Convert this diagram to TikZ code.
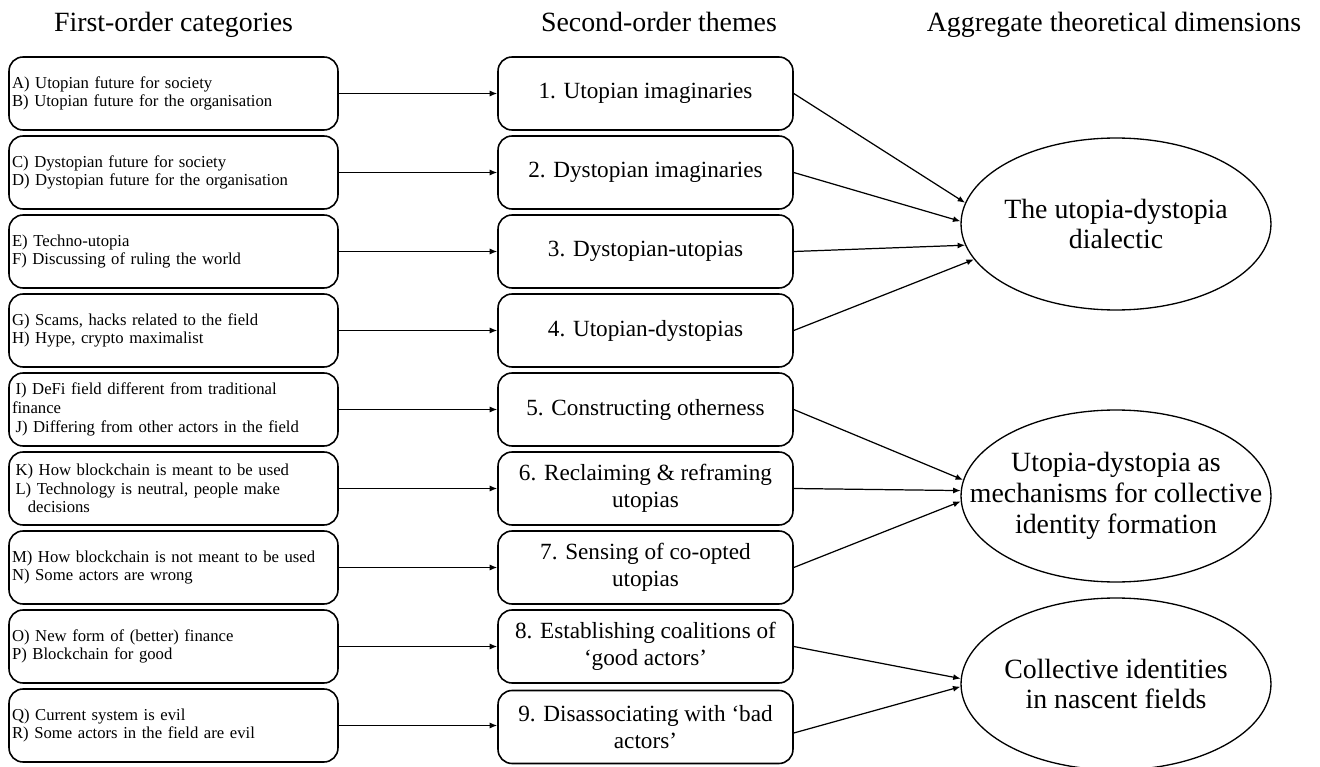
\documentclass[tikz,border=0pt]{standalone}
\usepackage{fontspec}
\setmainfont{Liberation Serif}
\usetikzlibrary{arrows.meta,shapes.geometric}

\begin{document}
\begin{tikzpicture}[x=0.02cm, y=-0.02cm,
      cat/.style={draw, rounded corners=0.28cm, line width=0.9pt, minimum height=1.46cm, text width=6.46cm, inner xsep=0.06cm, align=left, font=\fontsize{9.5pt}{10.6pt}\selectfont},
      theme/.style={draw, rounded corners=0.28cm, line width=0.9pt, minimum height=1.46cm, minimum width=5.9cm, align=center, font=\fontsize{13.2pt}{15.4pt}\selectfont},
      dim/.style={draw, ellipse, line width=0.75pt, minimum width=6.2cm, minimum height=3.44cm, inner sep=0pt},
      dimtext/.style={align=center, font=\fontsize{15.85pt}{17.6pt}\selectfont},
      head/.style={anchor=base, font=\fontsize{15.85pt}{17.6pt}\selectfont},
      link/.style={-{Latex[length=0.15cm,width=0.12cm]}, line width=0.7pt}]
      \useasboundingbox (0,0) rectangle (1320,767);

      \node[head] (h1) at (173.5,32) {First-order categories};
      \node[head] (h2) at (659,32) {Second-order themes};
      \node[head] (h3) at (1114,32) {Aggregate theoretical dimensions};

      \node[cat] (c1) at (173.5,93.5) {A) Utopian future for society\\B) Utopian future for the organisation};
      \node[cat] (c2) at (173.5,172.5) {C) Dystopian future for society\\D) Dystopian future for the organisation};
      \node[cat] (c3) at (173.5,251.5) {E) Techno-utopia\\F) Discussing of ruling the world};
      \node[cat] (c4) at (173.5,330.5) {G) Scams, hacks related to the field\\H) Hype, crypto maximalist};
      \node[cat] (c5) at (173.5,409.5) {\hspace*{2pt}I) DeFi field different from traditional\\finance\\\hspace*{2pt}J) Differing from other actors in the field};
      \node[cat] (c6) at (173.5,488.5) {\hspace*{2pt}K) How blockchain is meant to be used\\\hspace*{2pt}L) Technology is neutral, people make\\\hspace*{9pt}decisions};
      \node[cat] (c7) at (173.5,567.5) {M) How blockchain is not meant to be used\\N) Some actors are wrong};
      \node[cat] (c8) at (173.5,646.5) {O) New form of (better) finance\\P) Blockchain for good};
      \node[cat] (c9) at (173.5,725.5) {Q) Current system is evil\\R) Some actors in the field are evil};

      \node[theme] (t1) at (645.5,93.5) {1. Utopian imaginaries};
      \node[theme] (t2) at (645.5,172.5) {2. Dystopian imaginaries};
      \node[theme] (t3) at (645.5,251.5) {3. Dystopian-utopias};
      \node[theme] (t4) at (645.5,330.5) {4. Utopian-dystopias};
      \node[theme] (t5) at (645.5,409.5) {5. Constructing otherness};
      \node[theme] (t6) at (645.5,488.5) {6. Reclaiming \& reframing\\utopias};
      \node[theme] (t7) at (645.5,567.5) {7. Sensing of co-opted\\utopias};
      \node[theme] (t8) at (645.5,646.5) {8. Establishing coalitions of\\‘good actors’};
      \node[theme] (t9) at (645.5,727) {9. Disassociating with ‘bad\\actors’};

      \node[dim] (d1) at (1116,224) {};
      \node[dim] (d2) at (1116,496) {};
      \node[dim] (d3) at (1116,684) {};
      \node[dimtext] (d1t) at (d1) {The utopia-dystopia\\dialectic};
      \node[dimtext] (d2t) at (d2) {Utopia-dystopia as\\mechanisms for collective\\identity formation};
      \node[dimtext] (d3t) at (d3) {Collective identities\\in nascent fields};

      \draw[link] (c1.east) -- (t1.west);
      \draw[link] (c2.east) -- (t2.west);
      \draw[link] (c3.east) -- (t3.west);
      \draw[link] (c4.east) -- (t4.west);
      \draw[link] (c5.east) -- (t5.west);
      \draw[link] (c6.east) -- (t6.west);
      \draw[link] (c7.east) -- (t7.west);
      \draw[link] (c8.east) -- (t8.west);
      \draw[link] (c9.east) -- (c9.east -| t9.west);

      \draw[link] (t1.east) -- (d1.172);
      \draw[link] (t2.east) -- (d1.179);
      \draw[link] (t3.east) -- (d1.188);
      \draw[link] (t4.east) -- (d1.194);
      \draw[link] (t5.east) -- (d2.174);
      \draw[link] (t6.east) -- (d2.178);
      \draw[link] (t7.east) -- (d2.182);
      \draw[link] (t8.east) -- (d3.178);
      \draw[link] ([yshift=-0.12cm]t9.east) -- (d3.181.5);
\end{tikzpicture}
\end{document}
